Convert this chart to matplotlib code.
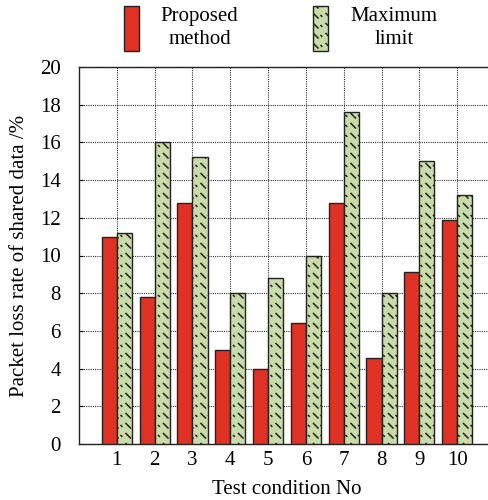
import numpy as np
import matplotlib
matplotlib.use('Agg')
import matplotlib.pyplot as plt
import matplotlib.hatch as mhatch
from matplotlib.path import Path

# Data
conditions = [1, 2, 3, 4, 5, 6, 7, 8, 9, 10]
proposed = [11.0, 7.8, 12.8, 5.0, 4.0, 6.4, 12.8, 4.55, 9.1, 11.9]
max_limit = [11.2, 16.0, 15.2, 8.0, 8.8, 10.0, 17.6, 8.0, 15.0, 13.2]
yticks = [0, 2, 4, 6, 8, 10, 12, 14, 16, 18, 20]


# Short dashes plus dots, like the original hatch
class DashDotHatch(mhatch.HatchPatternBase):
    def __init__(self, hatch, density):
        self.nx, self.ny = 8, 10
        if '\\' in hatch:
            self.num_lines = self.nx * self.ny * 2
        else:
            self.num_lines = 0
        self.num_vertices = self.num_lines * 2

    def set_vertices_and_codes(self, vertices, codes):
        gx, gy = np.meshgrid(np.arange(self.nx) / self.nx,
                             np.arange(self.ny) / self.ny)
        gx = gx.ravel()
        gy = gy.ravel()
        n = gx.size
        d = 0.045
        # dashes "\"
        vertices[0:2 * n:2, 0] = gx + 0.01
        vertices[0:2 * n:2, 1] = gy + 0.02 + d
        vertices[1:2 * n:2, 0] = gx + 0.01 + d
        vertices[1:2 * n:2, 1] = gy + 0.02
        # dots
        vertices[2 * n::2, 0] = gx + 0.085
        vertices[2 * n::2, 1] = gy + 0.045
        vertices[2 * n + 1::2, 0] = gx + 0.093
        vertices[2 * n + 1::2, 1] = gy + 0.037
        codes[0::2] = Path.MOVETO
        codes[1::2] = Path.LINETO


mhatch._hatch_types = [DashDotHatch]
plt.rcParams['hatch.linewidth'] = 1.1

plt.rcParams['font.family'] = ['Liberation Serif', 'DejaVu Serif']
plt.rcParams['font.size'] = 15

fig = plt.figure(figsize=(4.88, 5.0), dpi=100)
ax = fig.add_axes([79 / 488, 56 / 500, 416 / 488, 377 / 500])

x = np.array(conditions)
w = 0.4
b1 = ax.bar(x - w / 2, proposed, w, color='#e03224', edgecolor='#222222',
            linewidth=1.0, label='Proposed\nmethod', zorder=3)
b2 = ax.bar(x + w / 2, max_limit, w, color='#c9dba9', edgecolor='#222222',
            linewidth=1.0, hatch='\\', label='Maximum\nlimit', zorder=3)

ax.set_xlim(0, 11)
ax.set_ylim(0, 20)
ax.set_xticks(conditions)
ax.set_yticks(yticks)
ax.grid(True, color='#333333', linestyle=(0, (1, 1)), linewidth=0.8, zorder=0)
ax.tick_params(direction='in', length=3, width=0.8, labelsize=15)
ax.tick_params(axis='y', pad=13)
ax.tick_params(axis='x', length=0, pad=5)
for s in ax.spines.values():
    s.set_linewidth(1.0)
    s.set_color('#222222')

ax.set_xlabel('Test condition No', fontsize=15, labelpad=7)
ax.set_ylabel('Packet loss rate of shared data /%', fontsize=15, labelpad=8)

leg = fig.legend(handles=[b1, b2], loc='upper center', ncol=2,
                 bbox_to_anchor=(0.575, 1.008), frameon=False,
                 handlelength=0.72, handleheight=2.95, handletextpad=1.05,
                 columnspacing=3.6, fontsize=15, borderpad=0.0)
for t in leg.get_texts():
    t.set_multialignment('center')
    t.set_linespacing(1.3)

fig.savefig('out.png', dpi=100)
